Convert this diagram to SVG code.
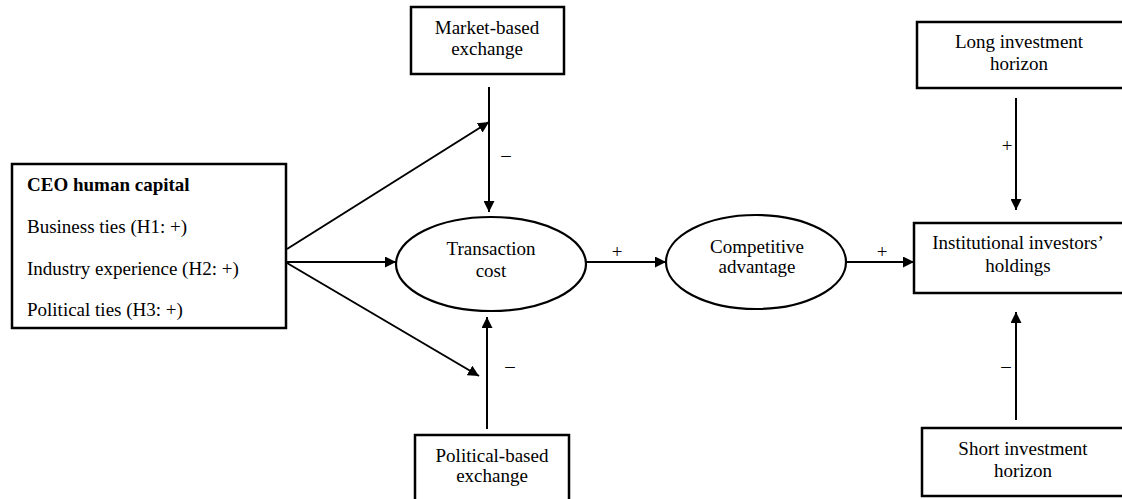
<svg xmlns="http://www.w3.org/2000/svg" width="1122" height="499" viewBox="0 0 1122 499">
<style>
.box{fill:#fff;stroke:#000;stroke-width:2.5}
.ell{fill:#fff;stroke:#000;stroke-width:2.2}
.t{font-family:"Liberation Serif","Times New Roman",serif;font-size:19px;fill:#000}
.c{text-anchor:middle}
.b{font-weight:bold}
.ln{stroke:#000;stroke-width:2;fill:none;marker-end:url(#ah)}
</style>
<defs>
<marker id="ah" viewBox="0 0 10 10" refX="10" refY="5" markerWidth="11" markerHeight="11" markerUnits="userSpaceOnUse" orient="auto">
<path d="M0,0 L10,5 L0,10 z" fill="#000"/>
</marker>
</defs>
<rect width="1122" height="499" fill="#fff"/>
<g id="connectors">
<line class="ln" x1="489" y1="87" x2="489" y2="212"/>
<line class="ln" x1="287" y1="249" x2="489" y2="122"/>
<line class="ln" x1="287" y1="262" x2="396" y2="262"/>
<line class="ln" x1="287" y1="263" x2="479" y2="376"/>
<line class="ln" x1="487" y1="429" x2="487" y2="317"/>
<line class="ln" x1="586" y1="262" x2="666" y2="262"/>
<line class="ln" x1="847" y1="262" x2="914" y2="262"/>
<line class="ln" x1="1016" y1="98" x2="1016" y2="210"/>
<line class="ln" x1="1016" y1="420" x2="1016" y2="312"/>
<text class="t c" x="506" y="161">–</text>
<text class="t c" x="510" y="372">–</text>
<text class="t c" x="617" y="258">+</text>
<text class="t c" x="882" y="258">+</text>
<text class="t c" x="1007" y="152">+</text>
<text class="t c" x="1006" y="372">–</text>
</g>
<g id="market">
<rect class="box" x="411" y="7" width="153" height="67"/>
<text class="t c" x="487" y="34">Market-based</text>
<text class="t c" x="487" y="55">exchange</text>
</g>
<g id="ceo">
<rect class="box" x="12" y="164" width="274" height="164"/>
<text class="t b" x="27" y="191">CEO human capital</text>
<text class="t" x="27" y="233">Business ties (H1: +)</text>
<text class="t" x="27" y="275">Industry experience (H2: +)</text>
<text class="t" x="27" y="316">Political ties (H3: +)</text>
</g>
<g id="transaction">
<ellipse class="ell" cx="491" cy="264" rx="95" ry="47"/>
<text class="t c" x="491" y="255">Transaction</text>
<text class="t c" x="491" y="277">cost</text>
</g>
<g id="political">
<rect class="box" x="415" y="435" width="154" height="70"/>
<text class="t c" x="492" y="462">Political-based</text>
<text class="t c" x="492" y="482">exchange</text>
</g>
<g id="competitive">
<ellipse class="ell" cx="756" cy="262" rx="90" ry="47"/>
<text class="t c" x="757" y="253">Competitive</text>
<text class="t c" x="757" y="273">advantage</text>
</g>
<g id="institutional">
<rect class="box" x="914" y="223" width="215" height="70"/>
<text class="t c" x="1018" y="249">Institutional investors’</text>
<text class="t c" x="1018" y="272">holdings</text>
</g>
<g id="long">
<rect class="box" x="917" y="22" width="212" height="66"/>
<text class="t c" x="1019" y="48">Long investment</text>
<text class="t c" x="1019" y="70">horizon</text>
</g>
<g id="short">
<rect class="box" x="922" y="428" width="207" height="68"/>
<text class="t c" x="1023" y="455">Short investment</text>
<text class="t c" x="1023" y="477">horizon</text>
</g>
</svg>
